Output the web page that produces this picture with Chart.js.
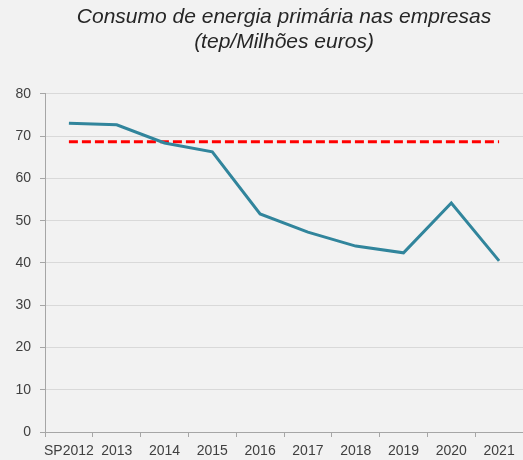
<!DOCTYPE html>
<html>
<head>
<meta charset="utf-8">
<script src="https://cdn.jsdelivr.net/npm/chart.js@4.4.1/dist/chart.umd.min.js"></script>
<style>
    html, body { margin: 0; padding: 0; background: #F2F2F2; }
    canvas { display: block; }
</style>
</head>
<body>
<canvas id="chart" width="523" height="460"></canvas>
<script>
const years = ["SP2012", "2013", "2014", "2015", "2016", "2017", "2018", "2019", "2020", "2021"];
const consumo = [73.1, 72.7, 68.4, 66.3, 51.6, 47.3, 44.0, 42.4, 54.2, 40.5];
const referencia = [68.7, 68.7, 68.7, 68.7, 68.7, 68.7, 68.7, 68.7, 68.7, 68.7];
const titleLines = ["Consumo de energia primária nas empresas", "(tep/Milhões euros)"];

const tickFont = { family: "'Liberation Sans', Arial, sans-serif", size: 14 };

new Chart(document.getElementById("chart"), {
    type: "line",
    data: {
        labels: years,
        datasets: [{
            label: "Consumo",
            data: consumo,
            borderColor: "#31859C",
            borderWidth: 3,
            pointRadius: 0,
            tension: 0,
            fill: false
        }, {
            label: "Referência",
            data: referencia,
            borderColor: "#FF0000",
            borderWidth: 3,
            borderDash: [9, 4],
            pointRadius: 0,
            tension: 0,
            fill: false
        }]
    },
    options: {
        responsive: false,
        animation: false,
        layout: { padding: { left: 0, right: -2, top: 0, bottom: 0 } },
        plugins: {
            legend: { display: false },
            tooltip: { enabled: false },
            title: {
                display: true,
                fullSize: false,
                text: titleLines,
                color: "#262626",
                font: { family: "'Liberation Sans', Arial, sans-serif", size: 21, style: "italic", weight: "normal", lineHeight: 1.19 },
                padding: { top: 5, bottom: 39 }
            }
        },
        scales: {
            x: {
                offset: true,
                grid: {
                    offset: true,
                    drawOnChartArea: false,
                    drawTicks: true,
                    tickLength: 5,
                    tickColor: "#A6A6A6"
                },
                border: { color: "#A6A6A6", width: 1 },
                ticks: { color: "#404040", font: tickFont, padding: 6, maxRotation: 0, autoSkip: false },
                afterFit: scale => { scale.height = 28; }
            },
            y: {
                min: 0,
                max: 80,
                ticks: { stepSize: 10, color: "#404040", font: tickFont, padding: 9 },
                grid: { color: "#D9D9D9", tickColor: "#A6A6A6", tickLength: 5 },
                border: { color: "#A6A6A6", width: 1 },
                afterFit: scale => { scale.width = 45; }
            }
        }
    }
});
</script>
</body>
</html>
